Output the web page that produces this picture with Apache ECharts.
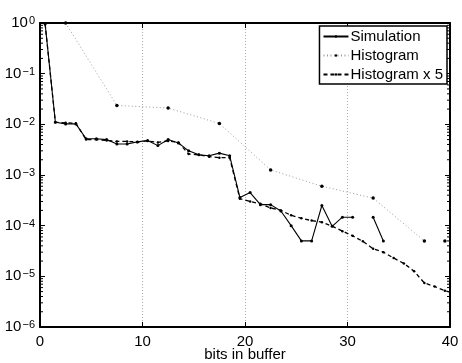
<!DOCTYPE html>
<html>
<head>
<meta charset="utf-8">
<script src="https://cdn.jsdelivr.net/npm/echarts@6/dist/echarts.min.js"></script>
<style>html,body{margin:0;padding:0;background:#fff}#c{width:462px;height:363px}</style>
</head>
<body>
<div id="c"></div>
<script>
// ---- data ----
const simX = [0.5,1.5,2.5,3.5,4.5,5.5,6.5,7.5,8.5,9.5,10.5,11.5,12.5,13.5,14.5,15.5,16.5,17.5,18.5,19.5,20.5,21.5,22.5,23.5,24.5,25.5,26.5,27.5,28.5,29.5,30.5,31.5,32.5,33.5];
const simY = [0.96,0.011,0.0102,0.0102,0.0052,0.0052,0.005,0.0041,0.0041,0.0045,0.0048,0.0038,0.005,0.0043,0.003,0.0025,0.0024,0.0027,0.0024,3.6e-4,4.5e-4,2.6e-4,2.6e-4,1.95e-4,1.0e-4,5.0e-5,5.0e-5,2.5e-4,9.7e-5,1.47e-4,1.47e-4,null,1.47e-4,5.0e-5];

const histX = [2.5,7.5,12.5,17.5,22.5,27.5,32.5,37.5,38.5,39.5];
const histY = [1.0,0.0236,0.021,0.0104,1.26e-3,6.0e-4,3.5e-4,5.0e-5,null,5.0e-5];

const hist5X = [0.5,1.5,2.5,3.5,4.5,5.5,6.5,7.5,8.5,9.5,10.5,11.5,12.5,13.5,14.5,15.5,16.5,17.5,18.5,19.5,20.5,21.5,22.5,23.5,24.5,25.5,26.5,27.5,28.5,29.5,30.5,31.5,32.5,33.5,34.5,35.5,36.5,37.5,38.5,39.5,40.5];
const hist5Y = [0.96,0.011,0.0107,0.0105,0.005,0.005,0.0048,0.0046,0.0046,0.0045,0.0047,0.0044,0.0047,0.0044,0.0026,0.0025,0.0023,0.0022,0.0022,3.4e-4,3.0e-4,2.7e-4,2.24e-4,2.0e-4,1.6e-4,1.4e-4,1.26e-4,1.17e-4,9.8e-5,7.8e-5,6.3e-5,4.9e-5,3.5e-5,3.0e-5,2.3e-5,1.8e-5,1.26e-5,7.4e-6,6.3e-6,5.2e-6,4.6e-6];

const xTicks = [0,10,20,30,40];
const decades = [-6,-5,-4,-3,-2,-1,0];
const seriesNames = ['Simulation','Histogram','Histogram x 5'];
const xLabel = 'bits in buffer';

// ---- build ----
const FONT = 'Liberation Sans, Arial, Helvetica, sans-serif';
const pairs = (xs, ys) => xs.map((x, i) => [x, ys[i] == null ? '-' : ys[i]]);
const minorTicks = [];
decades.slice(0, -1).forEach(d => { for (let m = 2; m <= 9; m++) minorTicks.push([0, m * Math.pow(10, d)]); });

const yMin = Math.pow(10, decades[0]), yMax = Math.pow(10, decades[decades.length - 1]);

const chart = echarts.init(document.getElementById('c'), null, {renderer: 'canvas'});
const axisLineStyle = {color: '#000', width: 2};
chart.setOption({
  animation: false,
  backgroundColor: '#fff',
  textStyle: {fontFamily: FONT},
  grid: {left: 40, right: 12, top: 23, bottom: 36, containLabel: false, outerBoundsMode: 'none'},
  xAxis: [{
    type: 'value', min: xTicks[0], max: xTicks[xTicks.length - 1], interval: 10,
    name: xLabel, nameLocation: 'middle', nameGap: 20, nameMoveOverlap: false,
    nameTextStyle: {fontSize: 15, color: '#000', fontFamily: FONT, verticalAlign: 'top'},
    axisLine: {show: true, onZero: false, lineStyle: axisLineStyle},
    axisTick: {show: true, inside: true, length: 5, lineStyle: {color: '#000', width: 1}},
    axisLabel: {fontSize: 15, color: '#000', margin: 7, fontFamily: FONT},
    splitLine: {show: true, lineStyle: {color: '#aaa', type: [1, 2], width: 1}}
  }, {
    type: 'value', position: 'top', min: xTicks[0], max: xTicks[xTicks.length - 1], interval: 10,
    axisLine: {show: true, onZero: false, lineStyle: axisLineStyle},
    axisTick: {show: true, inside: true, length: 5, lineStyle: {color: '#000', width: 1}},
    axisLabel: {show: false}, splitLine: {show: false}
  }],
  yAxis: [{
    type: 'log', logBase: 10, min: yMin, max: yMax,
    axisLine: {show: true, onZero: false, lineStyle: axisLineStyle},
    axisTick: {show: true, inside: true, length: 5, lineStyle: {color: '#000', width: 1}},
    splitLine: {show: false},
    axisLabel: {
      margin: 5, color: '#000',
      formatter: v => {
        const e = Math.round(Math.log10(v));
        return '{b|10}{s|' + (e < 0 ? '\u2212' + (-e) : String(e)) + '}';
      },
      rich: {
        b: {fontSize: 15, fontFamily: FONT, color: '#000', lineHeight: 15, verticalAlign: 'bottom', padding: [6, 0, 0, 0]},
        s: {fontSize: 11, fontFamily: FONT, color: '#000', lineHeight: 11, verticalAlign: 'top', padding: [0, 0, 0, 1]}
      }
    }
  }, {
    type: 'log', logBase: 10, min: yMin, max: yMax, position: 'right',
    axisLine: {show: true, onZero: false, lineStyle: axisLineStyle},
    axisTick: {show: true, inside: true, length: 5, lineStyle: {color: '#000', width: 1}},
    axisLabel: {show: false}, splitLine: {show: false}
  }],
  legend: {
    right: 15, top: 26, orient: 'vertical',
    data: seriesNames,
    itemWidth: 25, itemHeight: 3, itemGap: 4,
    padding: [3, 4, 2, 3],
    backgroundColor: '#fff', borderColor: '#000', borderWidth: 1.5,
    textStyle: {fontSize: 15, color: '#000', fontFamily: FONT, padding: [0, 0, 0, -3]}
  },
  series: [{
    name: seriesNames[0], type: 'line', data: pairs(simX, simY),
    symbol: 'circle', symbolSize: 3, showSymbol: true,
    lineStyle: {color: '#000', width: 1.1}, itemStyle: {color: '#000'},
    connectNulls: false, z: 4
  }, {
    name: seriesNames[1], type: 'line', data: pairs(histX, histY),
    symbol: 'circle', symbolSize: 3.5, showSymbol: true,
    lineStyle: {color: '#999', width: 1, type: [1, 2.5]}, itemStyle: {color: '#000'},
    connectNulls: false, z: 3
  }, {
    name: seriesNames[2], type: 'line', data: pairs(hist5X, hist5Y),
    symbol: 'circle', symbolSize: 2.5, showSymbol: true,
    lineStyle: {color: '#000', width: 1.3, type: [4, 3]}, itemStyle: {color: '#000'},
    connectNulls: false, z: 3
  }, {
    type: 'custom', silent: true, clip: false, z: 5,
    data: minorTicks, encode: {x: 0, y: 1},
    renderItem: (params, api) => {
      const v = api.value(1);
      const l = api.coord([xTicks[0], v]);
      const r = api.coord([xTicks[xTicks.length - 1], v]);
      return {type: 'group', children: [
        {type: 'line', shape: {x1: l[0], y1: l[1], x2: l[0] + 3, y2: l[1]}, style: {stroke: '#000', lineWidth: 1}},
        {type: 'line', shape: {x1: r[0] - 3, y1: r[1], x2: r[0], y2: r[1]}, style: {stroke: '#000', lineWidth: 1}}
      ]};
    }
  }]
});
</script>
</body>
</html>
